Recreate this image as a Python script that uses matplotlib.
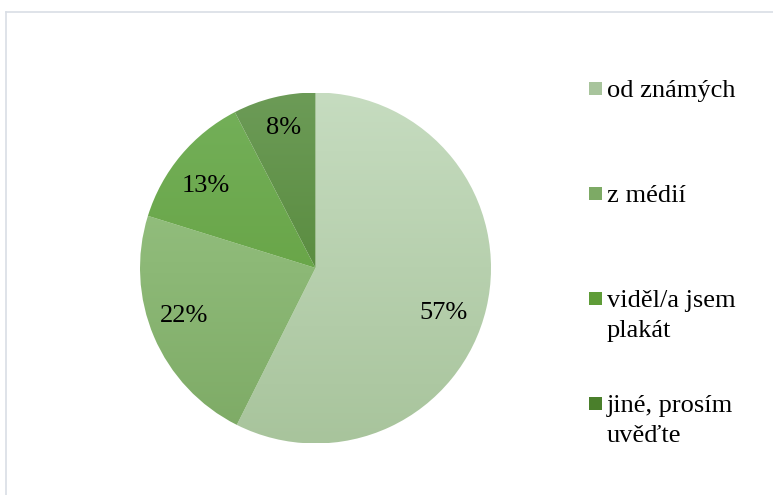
import numpy as np
import matplotlib
matplotlib.use("Agg")
import matplotlib.pyplot as plt
from matplotlib.colors import LinearSegmentedColormap
from matplotlib.patches import Rectangle
from matplotlib.lines import Line2D

# Data
labels = ["od známých", "z médií", "viděl/a jsem\nplakát", "jiné, prosím\nuvěďte"]
values = [57.4, 22.4, 12.6, 7.6]
# gradient colours per slice (top, bottom)
top_colors = ["#c6dcc0", "#9cc788", "#74b05a", "#6c9b57"]
bottom_colors = ["#a8c49c", "#7daa65", "#5f9c38", "#4a7f2b"]

plt.rcParams['font.family'] = ['Liberation Serif', 'DejaVu Serif']

W, H = 773, 495
fig = plt.figure(figsize=(W / 100, H / 100), dpi=100)

# pie centre and radius in pixels
cx, cy, r = 315.5, 268, 175.5
ax = fig.add_axes([(cx - r) / W, (H - cy - r) / H, 2 * r / W, 2 * r / H])

wedges, texts, autotexts = ax.pie(values, startangle=90, counterclock=False,
                                  autopct='%1.0f%%', pctdistance=0.8,
                                  wedgeprops=dict(linewidth=0),
                                  textprops=dict(fontsize=19, color='black'))
ax.set_xlim(-1, 1)
ax.set_ylim(-1, 1)
ax.set_aspect('equal')

# vertical gradient fill clipped to each wedge
grad = np.linspace(0, 1, 256).reshape(-1, 1)
for w, c1, c2 in zip(wedges, top_colors, bottom_colors):
    w.set_facecolor('none')
    cmap = LinearSegmentedColormap.from_list('g', [c1, c2])
    im = ax.imshow(grad, cmap=cmap, extent=[-1, 1, -1, 1], origin='upper',
                   aspect='auto', zorder=0.5)
    im.set_clip_path(w)

for t in autotexts:
    t.set_zorder(5)

# Excel "best fit" label placement: small rotation / radius tweaks
def nudge(t, dang, rad):
    x0, y0 = t.get_position()
    a = np.arctan2(y0, x0) + np.radians(dang)
    t.set_position((rad * np.cos(a), rad * np.sin(a)))

nudge(autotexts[0], -6, 0.77)
nudge(autotexts[1], -3, 0.80)
nudge(autotexts[2], 3, 0.78)
nudge(autotexts[3], -1, 0.82)

# legend drawn by hand (Excel-style), baselines of first lines
legend_base = [97, 202, 307, 412]
sq = 13
for lab, c1, c2, by in zip(labels, top_colors, bottom_colors, legend_base):
    fig.patches.append(Rectangle((589 / W, (H - by + 2) / H), sq / W, sq / H,
                                 transform=fig.transFigure, facecolor=c2,
                                 edgecolor='none'))
    for k, line in enumerate(lab.split("\n")):
        fig.text(607 / W, (H - by - 30 * k) / H, line, fontsize=19,
                 ha='left', va='baseline', transform=fig.transFigure)

# chart border (top and left visible)
border = '#d9dee5'
fig.lines.append(Line2D([6.5 / W, 1], [(H - 11.5) / H, (H - 11.5) / H],
                        transform=fig.transFigure, color=border, lw=1.2))
fig.lines.append(Line2D([6.5 / W, 6.5 / W], [0, (H - 11.5) / H],
                        transform=fig.transFigure, color=border, lw=1.2))

fig.savefig("out.png", dpi=100)
